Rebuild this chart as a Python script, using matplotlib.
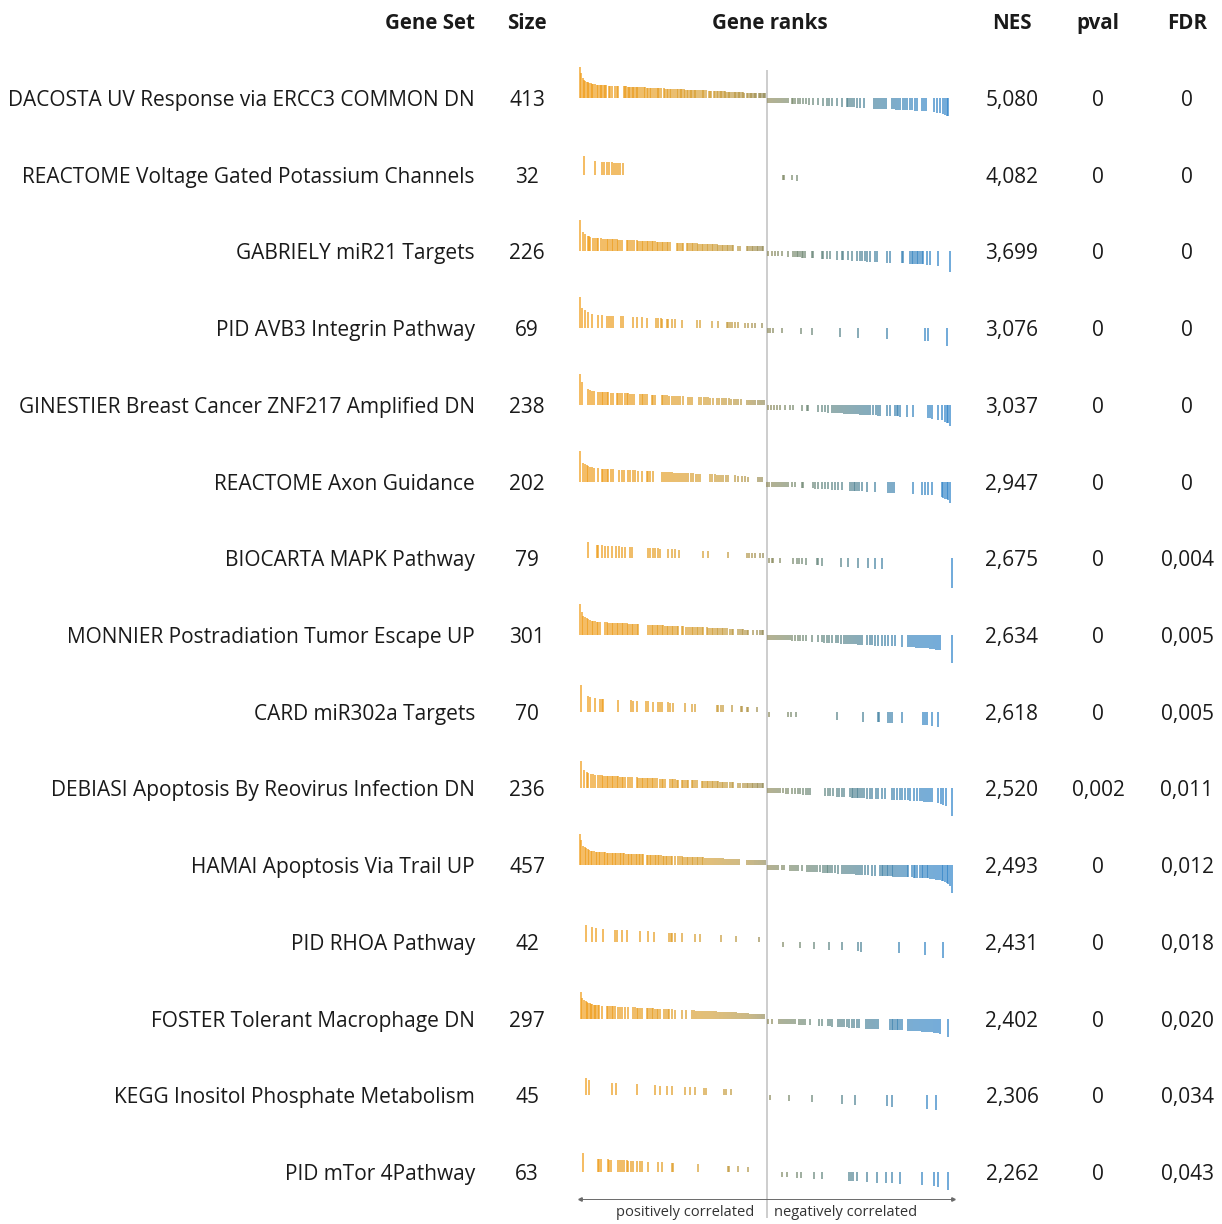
import numpy as np
import matplotlib
matplotlib.use("Agg")
import matplotlib.pyplot as plt
from matplotlib.colors import LinearSegmentedColormap

plt.rcParams['font.family'] = ['Open Sans', 'DejaVu Sans']

# ---------------------------------------------------------------- table data
gene_sets = [
    "DACOSTA UV Response via ERCC3 COMMON DN",
    "REACTOME Voltage Gated Potassium Channels",
    "GABRIELY miR21 Targets",
    "PID AVB3 Integrin Pathway",
    "GINESTIER Breast Cancer ZNF217 Amplified DN",
    "REACTOME Axon Guidance",
    "BIOCARTA MAPK Pathway",
    "MONNIER Postradiation Tumor Escape UP",
    "CARD miR302a Targets",
    "DEBIASI Apoptosis By Reovirus Infection DN",
    "HAMAI Apoptosis Via Trail UP",
    "PID RHOA Pathway",
    "FOSTER Tolerant Macrophage DN",
    "KEGG Inositol Phosphate Metabolism",
    "PID mTor 4Pathway",
]
sizes = [413, 32, 226, 69, 238, 202, 79, 301, 70, 236, 457, 42, 297, 45, 63]
nes = ["5,080", "4,082", "3,699", "3,076", "3,037", "2,947", "2,675", "2,634",
       "2,618", "2,520", "2,493", "2,431", "2,402", "2,306", "2,262"]
pval = ["0", "0", "0", "0", "0", "0", "0", "0", "0", "0,002", "0", "0", "0", "0", "0"]
fdr = ["0", "0", "0", "0", "0", "0", "0,004", "0,005", "0,005", "0,011", "0,012",
       "0,018", "0,020", "0,034", "0,043"]
headers = ["Gene Set", "Size", "Gene ranks", "NES", "pval", "FDR"]

# ------------------------------------------------------ ranked gene list
N_GENES = 11160
ZERO_CROSS = 5600
# ranking metric along the ranked list (knots)
metric_rank = [0, 20, 60, 100, 220, 330, 450, 800, 1100, 1800, 2800, 3800, 4800,
               5350, 5600, 5700, 6100, 6900, 7800, 8800, 9800, 10500, 10850,
               11050, 11100, 11140, 11160]
metric_value = [3.1, 2.9, 2.1, 1.9, 1.6, 1.45, 1.35, 1.25, 1.2, 1.08, 0.9, 0.75,
                0.58, 0.4, 0.0, -0.35, -0.5, -0.67, -0.85, -1.05, -1.2, -1.35,
                -1.55, -1.85, -2.1, -2.4, -3.2]

# ---------------------------------------- member gene ranks for each set
hits_dacosta = [
    0, 40, 80, 120, 160, 200, 240, 280, 320, 360, 400, 440, 510, 550, 590, 630, 670,
    710, 750, 790, 860, 910, 950, 1060, 1110, 1150, 1310, 1350, 1390, 1430, 1470,
    1510, 1550, 1590, 1630, 1670, 1710, 1750, 1810, 1850, 1910, 1950, 2010, 2050,
    2090, 2130, 2180, 2260, 2300, 2340, 2380, 2430, 2510, 2550, 2610, 2650, 2690,
    2740, 2790, 2860, 2900, 2940, 2990, 3030, 3070, 3110, 3150, 3210, 3250, 3290,
    3330, 3370, 3410, 3450, 3490, 3530, 3610, 3650, 3690, 3730, 3780, 3860, 3900,
    3940, 4010, 4040, 4110, 4150, 4190, 4230, 4270, 4310, 4350, 4390, 4430, 4470,
    4510, 4550, 4610, 4650, 4690, 4730, 4770, 4810, 4850, 4890, 4930, 5010, 5050,
    5090, 5130, 5170, 5210, 5250, 5290, 5360, 5400, 5440, 5480, 5520, 5560,
    5630, 5690, 5750, 5810, 5870, 5930, 5990, 6050, 6110, 6170, 6230, 6350, 6400,
    6450, 6530, 6610, 6690, 6770, 6880, 7000, 7150, 7300, 7400, 7470, 7550, 7700,
    7850, 8000, 8050, 8100, 8150, 8210, 8300, 8400, 8530, 8810, 8880, 8950, 9010,
    9070, 9130, 9190, 9350, 9420, 9490, 9550, 9610, 9680, 9750, 9820, 9890, 9950,
    10050, 10110, 10250, 10320, 10390, 10610, 10700, 10810, 10880, 10940, 11000,
    11040]
hits_voltage = [130, 450, 650, 730, 800, 880, 950, 1030, 1070, 1130, 1200, 1280,
                6100, 6130, 6350, 6500]
hits_gabriely = [
    0, 100, 150, 230, 270, 300, 400, 450, 500, 550, 630, 700, 750, 800, 850, 900,
    950, 1000, 1050, 1100, 1150, 1200, 1250, 1400, 1450, 1500, 1550, 1630, 1700,
    1750, 1800, 1850, 1900, 1950, 2000, 2050, 2100, 2150, 2200, 2250, 2300, 2350,
    2400, 2450, 2500, 2550, 2600, 2650, 2700, 2900, 2950, 3000, 3050, 3100, 3200,
    3250, 3300, 3350, 3400, 3450, 3500, 3550, 3600, 3650, 3700, 3750, 3800, 3850,
    3900, 3950, 4000, 4050, 4100, 4150, 4200, 4250, 4300, 4350, 4400, 4450, 4500,
    4550, 4600, 4750, 4800, 5000, 5050, 5100, 5150, 5200, 5250, 5300, 5350, 5400,
    5450, 5500,
    5630, 5750, 5850, 5950, 6050, 6250, 6400, 6450, 6500, 6550, 6600, 6650, 6700,
    6750, 6950, 7000, 7250, 7300, 7400, 7500, 7700, 7850, 7900, 8050, 8150, 8300,
    8400, 8450, 8550, 8600, 8700, 8850, 8900, 9200, 9300, 9650, 9700, 9900, 9950,
    10000, 10050, 10100, 10150, 10200, 10250, 10300, 10400, 10500, 10750, 11100]
hits_avb3 = [
    0, 70, 150, 230, 350, 530, 650, 820, 880, 930, 1000, 1230, 1300, 1600, 1700,
    1850, 2000, 2270, 2330, 2430, 2470, 2600, 2650, 2750, 2850, 3050, 3500, 3600,
    3950, 4150, 4400, 4450, 4500, 4550, 4650, 4750, 4950, 5050, 5150, 5250, 5450,
    5630, 5700, 5800, 6070, 6620, 6970, 7800, 8330, 9200, 10350, 10430, 11000]
hits_ginestier = [
    0, 50, 250, 300, 370, 430, 550, 600, 650, 700, 750, 800, 850, 930, 1000, 1100,
    1150, 1200, 1250, 1350, 1400, 1450, 1500, 1570, 1630, 1800, 1850, 1900, 1950,
    2000, 2150, 2200, 2250, 2450, 2500, 2550, 2610, 2670, 2750, 2810, 2870, 2930,
    2990, 3100, 3250, 3310, 3370, 3570, 3630, 3710, 3770, 3850, 3910, 4000, 4100,
    4160, 4250, 4320, 4390, 4470, 4530, 4610, 4670, 4750, 4820, 5000, 5060, 5130,
    5200, 5260, 5350, 5410, 5470, 5530,
    5650, 5730, 5810, 5900, 6000, 6150, 6300, 6400, 6650, 6800, 6850, 7150, 7250,
    7350, 7450, 7550, 7610, 7670, 7730, 7790, 7850, 7910, 7970, 8030, 8090, 8150,
    8210, 8270, 8330, 8390, 8450, 8510, 8570, 8630, 8700, 8800, 8870, 8940, 9010,
    9200, 9300, 9450, 9500, 9550, 9600, 9800, 10000, 10450, 10500, 10550, 10750,
    10850, 10950, 11000, 11050, 11100]
hits_axon = [
    0, 100, 150, 200, 250, 300, 370, 430, 530, 650, 700, 750, 800, 850, 930, 1000,
    1170, 1270, 1330, 1450, 1500, 1600, 1650, 1750, 1850, 2000, 2050, 2100, 2200,
    2450, 2510, 2570, 2630, 2690, 2750, 2810, 2870, 2930, 3000, 3050, 3110, 3170,
    3230, 3330, 3390, 3470, 3530, 3600, 3900, 3970, 4050, 4110, 4170, 4230, 4300,
    4370, 4430, 4650, 4750, 4850, 4950, 5050, 5350, 5400, 5450,
    5600, 5670, 5750, 5810, 5870, 5930, 5990, 6050, 6110, 6170, 6230, 6350, 6450,
    6650, 6700, 7000, 7050, 7150, 7250, 7350, 7450, 7550, 7650, 7750, 7850, 8110,
    8160, 8210, 8260, 8310, 8370, 8450, 8600, 8850, 9250, 9310, 9370, 9430, 10000,
    10250, 10350, 10450, 10550, 10850, 10900, 10950, 11000, 11050, 11100]
hits_mapk = [
    230, 500, 550, 650, 750, 850, 970, 1070, 1170, 1250, 1350, 1500, 1550, 2030,
    2100, 2180, 2250, 2330, 2400, 2650, 2750, 2850, 2970, 3700, 3850, 4430, 5000,
    5070, 5150, 5250, 5400, 5500,
    5680, 5750, 5800, 6000, 6400, 6500, 6570, 6650, 6770, 7100, 7150, 7250, 7830,
    8050, 8350, 8630, 8850, 9050, 11155]
hits_monnier = [
    0, 50, 100, 150, 200, 250, 300, 350, 400, 450, 500, 550, 600, 750, 800, 850,
    900, 950, 1000, 1050, 1100, 1150, 1200, 1250, 1300, 1350, 1400, 1450, 1500,
    1550, 1600, 1650, 1700, 1750, 2050, 2100, 2150, 2200, 2250, 2300, 2350, 2400,
    2450, 2500, 2550, 2600, 2650, 2700, 2750, 2800, 2850, 2900, 2950, 3050, 3100,
    3170, 3250, 3300, 3350, 3400, 3450, 3500, 3550, 3600, 3650, 3700, 3800, 3850,
    3900, 3950, 4000, 4050, 4100, 4150, 4200, 4250, 4300, 4350, 4400, 4500, 4550,
    4600, 4750, 4800, 4850, 4900, 4950, 5000, 5050, 5200, 5300, 5400, 5450, 5500,
    5630, 5690, 5750, 5810, 5870, 5930, 5990, 6050, 6110, 6170, 6230, 6300, 6370,
    6450, 6530, 6610, 6690, 6770, 6970, 7150, 7250, 7330, 7400, 7470, 7550, 7670,
    7750, 7830, 7910, 7970, 8030, 8090, 8150, 8210, 8270, 8330, 8390, 8450, 8610,
    8690, 8770, 8850, 8950, 9050, 9150, 9250, 9350, 9450, 9650, 9850, 9910, 9970,
    10030, 10090, 10150, 10210, 10270, 10330, 10390, 10450, 10510, 10570, 10630,
    10690, 10750, 10810, 11150]
hits_card = [
    30, 250, 300, 450, 600, 650, 700, 1130, 1530, 1600, 1700, 1970, 2030, 2200,
    2350, 2400, 2470, 2650, 2700, 2800, 3150, 3350, 3450, 4100, 4150, 4230, 4300,
    4550, 4830, 4870, 5000, 5050, 5300,
    5680, 6230, 6330, 6470, 7700, 8500, 8950, 8970, 9230, 9300, 9370, 9650, 10300,
    10350, 10400, 10570, 10750]
hits_debiasi = [
    30, 130, 200, 250, 330, 400, 450, 550, 600, 650, 700, 750, 800, 850, 900, 950,
    1000, 1050, 1100, 1150, 1200, 1250, 1300, 1350, 1450, 1500, 1550, 1700, 1750,
    1800, 1850, 1900, 1950, 2000, 2050, 2100, 2150, 2200, 2250, 2300, 2400, 2450,
    2500, 2550, 2700, 2750, 2800, 2850, 2900, 2950, 3050, 3100, 3150, 3200, 3250,
    3350, 3400, 3450, 3500, 3650, 3700, 3750, 3800, 3850, 3900, 3950, 4000, 4050,
    4100, 4150, 4200, 4250, 4300, 4350, 4400, 4500, 4550, 4600, 4750, 4800, 4900,
    4950, 5000, 5050, 5100, 5150, 5200, 5250, 5300, 5350, 5400, 5450, 5500,
    5630, 5690, 5750, 5810, 5870, 5930, 6000, 6100, 6170, 6250, 6350, 6450, 6530,
    6610, 6690, 6770, 6850, 6910, 7350, 7430, 7510, 7600, 7700, 7780, 7850, 7930,
    8100, 8150, 8200, 8250, 8300, 8350, 8400, 8450, 8530, 8610, 8690, 8770, 8870,
    8950, 9050, 9150, 9350, 9430, 9510, 9590, 9670, 9750, 9830, 9910, 10010, 10100,
    10200, 10270, 10330, 10370, 10430, 10500, 10550, 10750, 10830, 10900, 10970,
    11150]
hits_hamai = [
    0, 40, 90, 140, 180, 230, 280, 330, 370, 420, 470, 520, 560, 610, 660, 710, 750,
    800, 850, 900, 950, 1000, 1040, 1090, 1140, 1190, 1240, 1280, 1330, 1380, 1430,
    1480, 1520, 1570, 1620, 1670, 1720, 1760, 1810, 1860, 1900, 2000, 2050, 2100,
    2140, 2190, 2240, 2290, 2340, 2380, 2430, 2480, 2530, 2580, 2620, 2670, 2720,
    2770, 2850, 2950, 3000, 3050, 3100, 3150, 3200, 3250, 3300, 3350, 3400, 3450,
    3500, 3550, 3600, 3650, 3700, 3760, 3820, 3880, 3940, 4000, 4060, 4120, 4180,
    4240, 4300, 4360, 4420, 4480, 4540, 4600, 4660, 4720, 4780, 5000, 5060, 5120,
    5180, 5240, 5300, 5360, 5420, 5480, 5540,
    5630, 5690, 5750, 5810, 5870, 5950, 6050, 6130, 6300, 6360, 6420, 6480, 6550,
    6650, 6800, 6860, 6920, 6980, 7050, 7100, 7200, 7300, 7350, 7400, 7450, 7500,
    7550, 7650, 7750, 7850, 7910, 7970, 8030, 8090, 8150, 8210, 8270, 8330, 8390,
    8450, 8550, 8650, 8750, 8850, 9000, 9050, 9100, 9150, 9200, 9250, 9300, 9350,
    9400, 9450, 9500, 9560, 9620, 9680, 9740, 9800, 9850, 9950, 10010, 10060,
    10100, 10200, 10250, 10300, 10350, 10400, 10450, 10500, 10560, 10620, 10680,
    10740, 10800, 10850, 10900, 10950, 11000, 11050, 11100, 11150]
hits_rhoa = [
    180, 350, 470, 700, 1050, 1100, 1250, 1400, 1800, 2050, 2230, 2670, 2720, 2770,
    2850, 3070, 3450, 3600, 4230, 4680, 5380,
    6100, 6600, 7030, 7480, 7870, 8330, 8430, 9570, 10350, 10880]
hits_foster = [
    30, 70, 130, 170, 210, 250, 290, 330, 370, 410, 450, 490, 530, 570, 650, 800,
    850, 900, 950, 1000, 1050, 1130, 1200, 1270, 1350, 1430, 1600, 1650, 1700, 1750,
    1800, 1850, 2000, 2050, 2100, 2150, 2200, 2250, 2300, 2350, 2400, 2530, 2580,
    2630, 2680, 2750, 2850, 3070, 3170, 3350, 3410, 3470, 3530, 3590, 3650, 3710,
    3770, 3830, 3890, 3950, 4010, 4070, 4130, 4190, 4250, 4310, 4370, 4430, 4490,
    4550, 4610, 4670, 4730, 4790, 4850, 4910, 4970, 5030, 5090, 5150, 5210, 5270,
    5330, 5390, 5450, 5510,
    5650, 5750, 5970, 6030, 6090, 6150, 6210, 6270, 6330, 6390, 6450, 6570, 6630,
    6690, 6750, 6910, 7170, 7250, 7430, 7490, 7550, 7750, 7810, 7870, 7930, 8000,
    8070, 8150, 8230, 8300, 8370, 8570, 8630, 8690, 8750, 8810, 8870, 8930, 9300,
    9350, 9400, 9450, 9500, 9550, 9600, 9650, 9850, 9910, 9970, 10030, 10090,
    10150, 10210, 10270, 10330, 10390, 10450, 10510, 10570, 10630, 10690, 10750,
    10810, 11030]
hits_inositol = [
    170, 270, 950, 1070, 1700, 2250, 2400, 2600, 2750, 3150, 3300, 3450, 3730, 3770,
    4330, 4370, 4530,
    5700, 6280, 6950, 7850, 8250, 9220, 9370, 10400, 10670]
hits_mtor = [
    100, 530, 580, 630, 830, 870, 930, 1130, 1200, 1270, 1330, 1400, 1450, 1530,
    1600, 1700, 1800, 1850, 2030, 2330, 2470, 2770, 2800, 3550, 4430, 4470, 4750,
    5050,
    6070, 6200, 6500, 6630, 7030, 7250, 8070, 8130, 8200, 8300, 8600, 8900, 9170,
    9370, 9600, 10250, 10630, 10730, 11050]

hits = [hits_dacosta, hits_voltage, hits_gabriely, hits_avb3, hits_ginestier,
        hits_axon, hits_mapk, hits_monnier, hits_card, hits_debiasi, hits_hamai,
        hits_rhoa, hits_foster, hits_inositol, hits_mtor]

# ------------------------------------------------------------------ layout
W, H = 1222, 1224
ROW0_PX, ROW_PX = 98.0, 76.71          # first row centre and row pitch (pixels)
Y_TOP = (0 - ROW0_PX) / ROW_PX
Y_BOT = (H - ROW0_PX) / ROW_PX
PX = 1.0 / ROW_PX                      # one pixel in row units
METRIC_PX = 10.0                       # pixels per metric unit
MIN_LEN = 0.5                          # shortest drawn bar (metric units)

fig = plt.figure(figsize=(W / 100, H / 100), dpi=100)

# table axes: x in pixels, y in rows
ax_t = fig.add_axes([0, 0, 1, 1])
ax_t.set_xlim(0, W)
ax_t.set_ylim(Y_BOT, Y_TOP)
ax_t.axis("off")

TXT = "#1a1a1a"
label_fs = 15.0
head_fs = 14.8
hdr_y = (29 - ROW0_PX) / ROW_PX
col_x = {"name": 475, "size": 527, "ranks": 770, "nes": 1012, "pval": 1098, "fdr": 1187}

ax_t.text(col_x["name"], hdr_y, headers[0], ha="right", va="baseline",
          fontsize=head_fs, fontweight="bold", color=TXT)
for key, h in zip(["size", "ranks", "nes", "pval", "fdr"], headers[1:]):
    ax_t.text(col_x[key], hdr_y, h, ha="center", va="baseline",
              fontsize=head_fs, fontweight="bold", color=TXT)

base_off = 8 * PX
for i in range(len(gene_sets)):
    y = i + base_off
    ax_t.text(col_x["name"], y, gene_sets[i], ha="right", va="baseline",
              fontsize=label_fs, color=TXT)
    ax_t.text(col_x["size"], y, str(sizes[i]), ha="center", va="baseline",
              fontsize=label_fs, color=TXT)
    ax_t.text(col_x["nes"], y, nes[i], ha="center", va="baseline",
              fontsize=label_fs, color=TXT)
    ax_t.text(col_x["pval"], y, pval[i], ha="center", va="baseline",
              fontsize=label_fs, color=TXT)
    ax_t.text(col_x["fdr"], y, fdr[i], ha="center", va="baseline",
              fontsize=label_fs, color=TXT)

# gene-rank axes: x in ranks, y in rows
R_LEFT_PX, R_RIGHT_PX = 570, 962
r_per_px = 30.0
ax_r = fig.add_axes([R_LEFT_PX / W, 0, (R_RIGHT_PX - R_LEFT_PX) / W, 1])
ax_r.set_xlim(-10 * r_per_px, N_GENES + 10 * r_per_px)
ax_r.set_ylim(Y_BOT, Y_TOP)
ax_r.axis("off")
ax_r.patch.set_alpha(0)

cmap = LinearSegmentedColormap.from_list("corr", [
    (0.00, "#F09A14"), (0.20, "#E69C1E"), (0.35, "#D29E34"), (0.45, "#B09447"),
    (0.50, "#8F8856"), (0.56, "#7A8868"), (0.66, "#5F8580"), (0.78, "#447F9A"),
    (0.90, "#3383BF"), (1.00, "#2A80C8")])

for i, ranks in enumerate(hits):
    r = np.asarray(ranks, dtype=float)
    m = np.interp(r, metric_rank, metric_value)
    m = np.where(r < ZERO_CROSS, np.maximum(m, MIN_LEN), np.minimum(m, -MIN_LEN))
    length = m * METRIC_PX * PX
    y0 = np.full_like(r, float(i))
    y1 = y0 - length
    cols = cmap(r / N_GENES)
    ax_r.vlines(r, np.minimum(y0, y1), np.maximum(y0, y1), colors=cols,
                linewidth=1.1, alpha=0.85)

# zero-crossing divider
ax_r.vlines(ZERO_CROSS, (70 - ROW0_PX) / ROW_PX, (1218 - ROW0_PX) / ROW_PX,
            colors="#c9c9c9", linewidth=1.3, zorder=0)

# rank axis with direction labels
axis_y = (1199 - ROW0_PX) / ROW_PX
ax_r.plot([0, N_GENES + 30], [axis_y, axis_y], color="#6a6a6a", linewidth=0.7)
ax_r.plot([0], [axis_y], marker="<", markersize=2.5, color="#6a6a6a")
ax_r.plot([N_GENES + 30], [axis_y], marker=">", markersize=2.5, color="#6a6a6a")
lab_y = (1212 - ROW0_PX) / ROW_PX
ax_r.text(3150, lab_y, "positively correlated", ha="center", va="center",
          fontsize=10.5, color="#333333")
ax_r.text(7980, lab_y, "negatively correlated", ha="center", va="center",
          fontsize=10.5, color="#333333")

fig.savefig("out.png", dpi=100)
